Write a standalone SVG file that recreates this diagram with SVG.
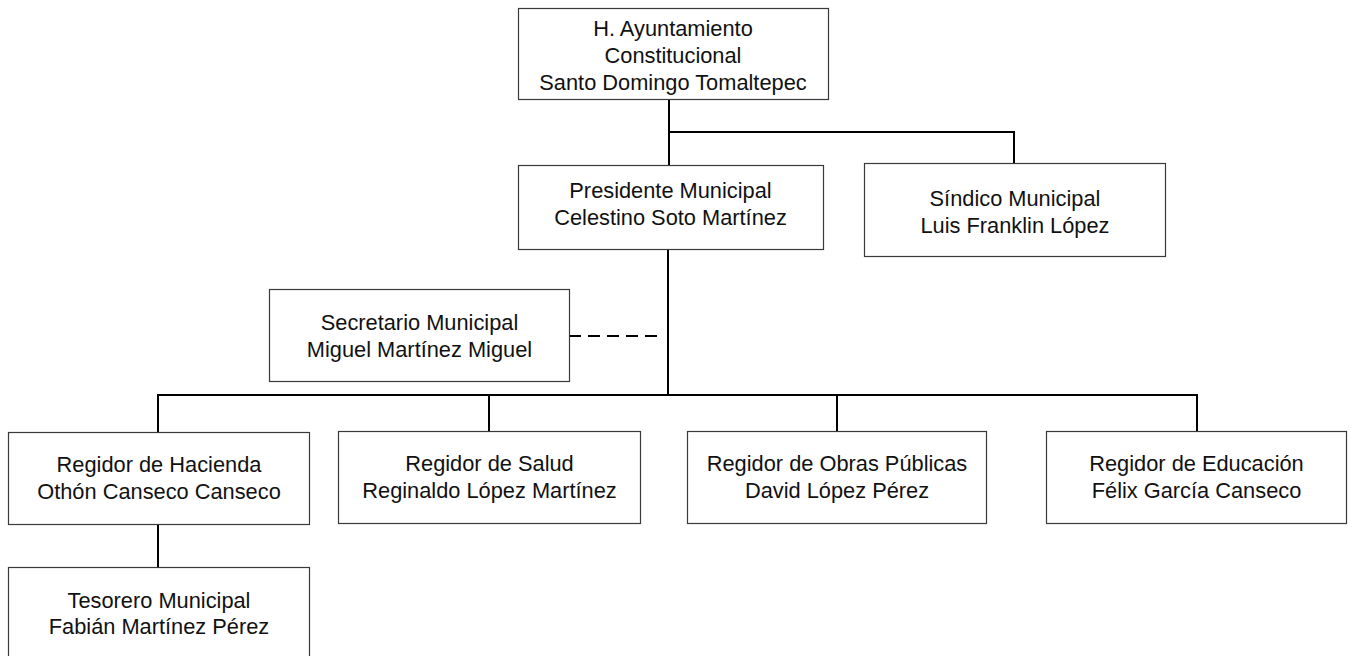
<svg xmlns="http://www.w3.org/2000/svg" width="1352" height="656" viewBox="0 0 1352 656">
<style>
.box{fill:#ffffff;stroke:#3a3a3a;stroke-width:1.2}
.t{font-family:"Liberation Sans",Arial,sans-serif;font-size:21.8px;fill:#111111;text-anchor:middle}
.ln{stroke:#000000;stroke-width:2;fill:none}
.dash{stroke:#000000;stroke-width:2;stroke-dasharray:12 7;fill:none}
</style>
<rect width="1352" height="656" fill="#ffffff"/>
<g id="connectors">
<path class="ln" d="M669 99 V165"/>
<path class="ln" d="M669 132 H1014 V163"/>
<path class="ln" d="M668 249 V395"/>
<path class="ln" d="M158 432 V395 H1197 V431"/>
<path class="ln" d="M489 395 V431"/>
<path class="ln" d="M837 395 V431"/>
<path class="ln" d="M158 524 V567"/>
<path class="dash" d="M569 336 H664"/>
</g>
<g id="n-ayuntamiento">
<rect class="box" x="518.5" y="8.5" width="310" height="91"/>
<text class="t" x="673" y="36">H. Ayuntamiento</text>
<text class="t" x="673" y="63">Constitucional</text>
<text class="t" x="673" y="90">Santo Domingo Tomaltepec</text>
</g>
<g id="n-presidente">
<rect class="box" x="518.5" y="165.5" width="305" height="84"/>
<text class="t" x="670.5" y="198">Presidente Municipal</text>
<text class="t" x="670.5" y="225">Celestino Soto Martínez</text>
</g>
<g id="n-sindico">
<rect class="box" x="864.5" y="163.5" width="301" height="93"/>
<text class="t" x="1015" y="206">Síndico Municipal</text>
<text class="t" x="1015" y="233">Luis Franklin López</text>
</g>
<g id="n-secretario">
<rect class="box" x="269.5" y="289.5" width="300" height="92"/>
<text class="t" x="419.5" y="330">Secretario Municipal</text>
<text class="t" x="419.5" y="357">Miguel Martínez Miguel</text>
</g>
<g id="n-hacienda">
<rect class="box" x="8.5" y="432.5" width="301" height="92"/>
<text class="t" x="159" y="472">Regidor de Hacienda</text>
<text class="t" x="159" y="499">Othón Canseco Canseco</text>
</g>
<g id="n-salud">
<rect class="box" x="338.5" y="431.5" width="302" height="92"/>
<text class="t" x="489.5" y="471">Regidor de Salud</text>
<text class="t" x="489.5" y="498">Reginaldo López Martínez</text>
</g>
<g id="n-obras">
<rect class="box" x="687.5" y="431.5" width="299" height="92"/>
<text class="t" x="837" y="471">Regidor de Obras Públicas</text>
<text class="t" x="837" y="498">David López Pérez</text>
</g>
<g id="n-educacion">
<rect class="box" x="1046.5" y="431.5" width="300" height="92"/>
<text class="t" x="1196.5" y="471">Regidor de Educación</text>
<text class="t" x="1196.5" y="498">Félix García Canseco</text>
</g>
<g id="n-tesorero">
<rect class="box" x="8.5" y="567.5" width="301" height="95"/>
<text class="t" x="159" y="608">Tesorero Municipal</text>
<text class="t" x="159" y="634">Fabián Martínez Pérez</text>
</g>
</svg>
